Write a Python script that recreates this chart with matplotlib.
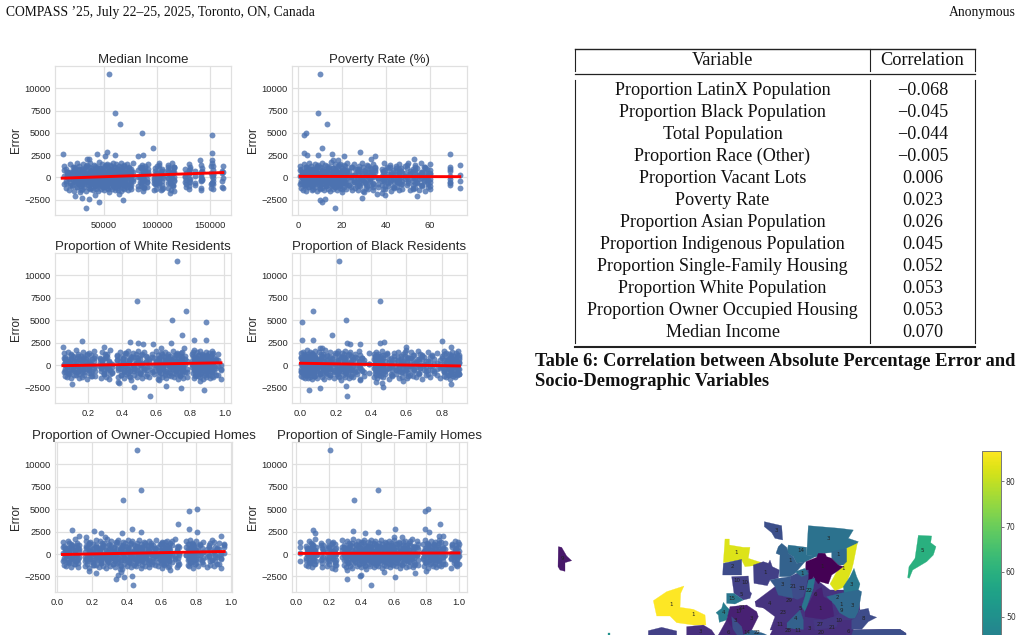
import numpy as np
import matplotlib
matplotlib.use('Agg')
import matplotlib.pyplot as plt
from matplotlib.patches import Polygon
from matplotlib.cm import ScalarMappable
from matplotlib.colors import Normalize

W, H = 1022, 635

# errors shared by all panels: the outliers first, then the main band
out_err = [11600,7200,6000,5000,4800,3300,2800,2750,2650,2600,2500,2450,2400,2350,2050,2000,1950,1900,
           -3500,-2750,-2600,-2400,-2300,-2100,-2000,-1900,-1800,-1700]
body_err = [820,-640,260,-230,640,-860,60,1120,-470,430,-1080,-120,
            980,-560,310,-330,720,-790,130,1280,-410,520,-1190,-40,
            760,-700,190,-280,590,-920,20,1060,-510,380,-1010,-170,
            1010,-600,340,-360,680,-830,100,1350,-440,490,-1330,-70,
            870,-680,220,-210,610,-880,40,1180,-530,410,-960,-140,
            940,-620,290,-300,750,-760,160,1240,-390,550,-1120,-20,
            790,-730,170,-260,560,-940,80,1090,-480,360,-1040,-190,
            1030,-580,320,-340,700,-810,110,1420,-420,470,-1260,-90,
            840,-660,240,-240,630,-900,30,1150,-500,440,-990,-150,
            960,-610,280,-310,730,-780,150,1300,-380,530,-1150,-50,
            800,-710,200,-270,570,-950,70,1110,-460,390,-1020,-180,
            1050,-590,330,-350,690,-820,120,1220,-430,480,-1230,-100,
            850,-670,230,-220,620,-870,50,1170,-520,420]
body_err2 = [150,-420,560,-90,-610,340,-250,710,-520,30,440,-160,-700,630,
             -330,220,-560,810,-30,-450,380,-200,90,-660,500,-120,670,-380,
             270,-530,740,-70,-300,480,-590,120,600,-210,-470,0,350,-680,
             -140,520,-400,190,-620,660,-10,-280,410,-540,780,80,-360,240,
             -490,310,-180,690,-570,50,460,-260,-640,580,110,-340,-40,370,
             200,-610,540,-110,-430,720,-230,10,-550,400,-300,640,-80,-510,
             330,-170,610,-650,70,-390,490,-20,-240,760,-460,170,-120,560,
             -590,290,-50,430,-350,650,130,-270,-520,390,-150,700,-440,60,
             -200,510,-630,230,-60,-370,590,-480,140,-310,450,-100,680,-560,
             -250,360,-20,-410,620,-130,250,-580,470,-330,90,-480,730,-190]
body_err3 = [-780,930,-20,470,-900,180,660,-410,1040,-620,290,820,-150,-1000,
             560,-730,890,-280,350,1150,-540,60,-850,720,-370,1000,-60,-680,
             420,-960,780,-200,1200,-470,140,-790,600,-320,950,-1100,240,-570,
             1080,-120,-880,510,-650,850,-30,-430,1260,-740,310,680,-1040,160,
             -290,970,-590,440,-820,740,-90,1110,-510,220,-930,620,-240,880,
             -700,380,1020,-160,-860,540,-450,800,20,-640,1180,-340,270,-1070,
             690,-520,910,-70,-770,480,-220,1060,-600,330,-910,760,-130,1130,
             -480,200,-840,640,-380,990,-10,-720,430,870,-560,110,-1150,580,
             -260,1230,-660,360,-810,700,-100,-500,1010,-310,170,-950,520,-420,
             840,-190,-750,280,1090,-610,400,-880,730,-40,-350,960,-690,120]
# fringe of the band, not every column reaches it
body_err4 = [1320,-1240,640,-1380,1510,-980,1180,-1500,870,-1120,1640,-760,1260,-1420,
             980,-1310,1450,-1060,720,-1580,1350,-890,1120,-1260,1580,-1180,810,-1450,
             1400,-1020,1230,-1360,940,-1540,1680,-840,1090,-1290,1480,-1140,760,-1400,
             1290,-950,1530,-1230,1030,-1620,1370,-1080,860,-1340,1600,-920,1170,-1470,
             1440,-1210,910,-1380,1270,-1010,1560,-1550,780,-1170,1340,-1300,1050,-870,
             1490,-1440,1210,-1090,960,-1270,1620,-1360,1130,-980,1390,-1520,840,-1200,
             1300,-1050,1510,-1410,1000,-1320,1240,-910,1660,-1480,890,-1150,1420,-1250,
             1080,-1380,1550,-1030,1200,-1590,930,-1120,1460,-1290,1150,-850,1330,-1430,
             1040,-1190,1590,-1340,820,-1070,1280,-1510,1110,-960,1470,-1260,980,-1390,
             1360,-1130,1530,-1000,900,-1460,1250,-1220,1640,-940,1060,-1320,1410,-1100]

inc_out = [55000,60500,65500,86000,152000,96500,53000,152000,11500,44000,61000,86500,51500,82000,36500,34000,152000,141000,
           33000,46000,68000,36500,30000,23000,42000,64000,112000,28000]
pov_out = [10,9,13,3.7,2.7,11,28,2.7,69,15.5,9,4,21,35,33,52.5,18,16,
           17,11,10,12.5,29,54,39.5,36,38,30]
wht_out = [.725,.49,.775,.695,.89,.75,.82,.89,.165,.445,.495,.69,.525,.585,.295,.055,.63,.765,
           .565,.88,.745,.47,.66,.11,.385,.375,.855,.62]
blk_out = [.22,.45,.07,.26,.008,.18,.07,.01,.80,.475,.45,.262,.28,.335,.60,.85,.125,.11,
           .265,.05,.11,.47,.26,.85,.46,.43,.58,.34]
own_out = [.46,.48,.38,.805,.76,.695,.43,.76,.085,.21,.48,.805,.37,.25,.125,.94,.275,.165,
           .435,.34,.385,.43,.35,.22,.365,.185,.65,.36]
sgl_out = [.205,.505,.355,.81,.79,.885,.605,.79,.10,.35,.505,.815,.42,.115,.90,.88,.60,.65,
           .46,.31,.605,.39,.395,.73,.54,.80,.31,.24]

inc_x = [12300,14600,15800,17700,18400,20100,21300,22400,23300,24600,25200,26700,27100,28300,29200,30000,30900,31800,32600,33500,
         34300,35200,36000,36700,37600,38300,39200,39900,40800,41400,42300,43000,43900,44500,45300,46000,46900,47400,48300,49000,
         49800,50400,51300,51900,52800,53400,54300,54900,55700,56300,57200,57800,58600,59200,60100,60700,61500,62100,63000,63600,
         64400,65000,65900,66500,67400,68000,68900,69500,70400,71000,72000,72600,73600,74300,75400,76100,77200,82100,84200,85100,
         85700,86600,87200,88100,89100,90600,91900,97100,98400,99600,100400,101600,102400,103600,104400,105600,110100,110900,112100,
         112900,114100,114900,116100,116400,126200,127800,130100,130600,131100,135800,141200,141800,142500,151100,151900,152400,153000,161200,162000]
pov_x = [1.1,1.3,1.9,2.1,2.8,3,3.6,3.8,4.4,4.6,5.2,5.4,6,6.2,6.8,7,7.6,7.8,8.4,8.6,9.2,9.4,10,10.2,10.8,11,11.6,11.8,12.4,12.7,13.3,
         13.6,14.2,14.5,15.1,15.3,15.9,16.1,16.7,16.9,17.5,17.7,18.3,18.5,19.1,19.3,19.9,20.1,20.7,20.9,21.5,21.7,22.4,23.1,24.3,24.7,
         25.5,25.9,26.7,27.1,27.9,28.3,29.1,29.5,30.3,30.7,31.5,31.9,32.7,33.1,33.9,34.3,35.1,36.4,38.1,38.5,39.3,39.7,40.5,40.9,41.7,
         42.3,43.1,43.7,44.5,44.9,45.7,46.1,46.9,47.3,48.6,49.4,50.1,50.9,52.1,52.4,53.1,53.4,54.1,54.9,55.7,56.4,57.1,57.9,58.6,59.1,
         60.1,60.2,69.1,69.2,73.8]
wht_x = [.06,.065,.07,.08,.085,.09,.10,.105,.115,.12,.13,.135,.145,.15,.16,.165,.175,.18,.19,.195,.205,.21,.22,.225,.235,.245,.27,.28,.285,
         .295,.30,.31,.315,.325,.33,.34,.37,.38,.39,.395,.405,.41,.42,.425,.435,.44,.45,.455,.465,.47,.48,.49,.495,.505,.51,.52,.53,.54,.55,
         .56,.575,.59,.60,.61,.615,.62,.63,.635,.64,.65,.655,.66,.67,.675,.68,.685,.70,.705,.71,.715,.72,.73,.735,.74,.745,.75,.755,.76,.77,
         .78,.81,.815,.82,.825,.83,.835,.84,.845,.85,.855,.86,.865,.87,.875,.88,.885,.89,.895,.90,.905,.91,.915,.92,.925,.93,.935,.94,.95,.96,.98]
blk_x = [.002,.005,.008,.012,.015,.018,.022,.025,.028,.032,.035,.038,.042,.045,.048,.052,.055,.058,.062,.065,.068,.072,.075,.078,.082,.085,.09,.095,
         .105,.11,.115,.12,.13,.135,.14,.145,.15,.16,.165,.17,.18,.19,.195,.205,.21,.215,.22,.23,.235,.24,.245,.25,.255,.26,.27,.275,.28,.285,.29,.30,.31,
         .32,.33,.34,.35,.36,.39,.415,.42,.425,.43,.435,.44,.445,.45,.455,.46,.465,.47,.48,.49,.50,.515,.52,.53,.54,.55,.56,.57,.575,.58,.59,.595,.605,.61,.62,
         .625,.635,.645,.655,.665,.67,.675,.69,.70,.71,.725,.735,.745,.755,.775,.79,.80,.81,.815,.825,.83,.835,.84,.845,.85,.855,.86,.865,.87,.875,.88,.885,.89,.895,.90]
own_x = [.035,.04,.045,.05,.06,.065,.07,.08,.085,.095,.10,.11,.115,.12,.125,.16,.165,.17,.18,.185,.19,.20,.205,.21,.22,.225,.23,.24,.245,.25,.26,.265,.27,
         .28,.285,.29,.30,.305,.31,.32,.325,.33,.34,.345,.35,.36,.365,.37,.38,.385,.39,.40,.405,.41,.42,.425,.43,.44,.445,.45,.46,.465,.47,.48,.485,.49,.50,.505,
         .51,.52,.525,.53,.54,.545,.55,.56,.57,.58,.59,.595,.60,.605,.61,.615,.62,.625,.63,.635,.64,.645,.65,.66,.68,.69,.695,.70,.74,.75,.755,.76,.765,.77,.775,
         .78,.785,.79,.80,.81,.82,.83,.84,.86,.87,.88,.89,.90,.91,.92,.93,.94,.96]
sgl_x = [.025,.06,.065,.07,.08,.085,.09,.095,.105,.11,.115,.12,.15,.155,.165,.19,.195,.20,.21,.22,.225,.235,.24,.245,.28,.29,.295,.305,.31,.32,.325,.33,.34,.345,
         .35,.36,.365,.37,.38,.385,.39,.395,.40,.41,.415,.42,.425,.43,.44,.445,.45,.455,.46,.47,.475,.48,.485,.49,.495,.50,.51,.515,.52,.525,.53,.54,.545,.55,.555,.56,
         .57,.575,.58,.585,.59,.595,.60,.61,.615,.62,.63,.635,.64,.65,.655,.66,.67,.675,.68,.69,.695,.70,.71,.72,.725,.73,.74,.75,.78,.785,.79,.80,.805,.81,.82,.825,.83,
         .84,.845,.85,.855,.86,.87,.875,.88,.89,.90,.905,.915,.95,.96,.97,.975,.98,.985,.99,.995,1.0]

# titles, fit line ends and axis limits for the six panels
titles = ['Median Income', 'Poverty Rate (%)', 'Proportion of White Residents', 'Proportion of Black Residents',
          'Proportion of Owner-Occupied Homes', 'Proportion of Single-Family Homes']
fit_x = [[11000,162000], [1,73.5], [.055,.98], [0,.9], [.03,.96], [.02,1.0]]
fit_y = [[-100,530], [100,70], [-70,250], [200,-100], [-50,280], [70,120]]
xlims = [(4230,169700), (-2.7,76.8), (.0086,1.039), (-.0476,.943), (-.013,1.005), (-.027,1.05)]
xticks = [[50000,100000,150000], [0,20,40,60], [.2,.4,.6,.8,1.0], [0,.2,.4,.6,.8], [0,.2,.4,.6,.8,1.0], [0,.2,.4,.6,.8,1.0]]
yticks = [-2500,0,2500,5000,7500,10000]
panels = [(inc_x,inc_out), (pov_x,pov_out), (wht_x,wht_out), (blk_x,blk_out), (own_x,own_out), (sgl_x,sgl_out)]
boxes = [(55,66,231,215), (292,66,467,215), (55,253,231,403), (292,253,467,403), (55,442,232,592), (292,442,467,592)]
label_x = [22,259,22,259,22,259]

# table
variables = ['Proportion LatinX Population','Proportion Black Population','Total Population','Proportion Race (Other)',
             'Proportion Vacant Lots','Poverty Rate','Proportion Asian Population','Proportion Indigenous Population',
             'Proportion Single-Family Housing','Proportion White Population','Proportion Owner Occupied Housing','Median Income']
corrs = ['\u22120.068','\u22120.045','\u22120.044','\u22120.005','0.006','0.023','0.026','0.045','0.052','0.053','0.053','0.070']

# map: outline vertices, colour value
regions = [
    ([(675,515),(735,470),(835,430),(900,480),(985,480),(990,540),(965,600),(720,600),(735,560)], 24),
    ([(235,608),(240,608),(240,615),(235,615)], 50),
    ([(85,350),(95,352),(110,378),(125,392),(105,398),(105,424),(90,420),(84,410)], 18),
    ([(370,512),(410,485),(462,468),(452,490),(450,532),(490,538),(525,555),(528,585),(490,585),(440,578),(420,558),(380,558)], 86.8),
    ([(585,327),(598,327),(598,345),(640,352),(660,352),(655,385),(695,398),(690,405),(645,410),(635,390),(580,398)], 83),
    ([(580,400),(635,388),(635,435),(578,435)], 30),
    ([(605,440),(655,438),(660,485),(665,490),(660,505),(640,510),(612,490)], 27),
    ([(590,490),(612,490),(640,510),(615,522),(590,520)], 42),
    ([(670,405),(700,395),(715,400),(720,390),(727,410),(748,420),(745,445),(720,450),(712,467),(672,460)], 27),
    ([(703,275),(755,287),(758,330),(735,325),(725,308),(703,290)], 31),
    ([(835,287),(930,295),(970,300),(955,325),(985,335),(975,350),(950,355),(930,365),(880,370),(860,380),(830,375)], 41),
    ([(775,345),(830,352),(830,375),(860,378),(827,395),(800,400),(790,380),(770,368)], 40),
    ([(755,340),(770,352),(775,370),(790,380),(800,400),(825,395),(795,430),(780,440),(748,440),(750,375),(738,370),(745,350)], 36),
    ([(950,355),(982,340),(970,400),(965,420),(945,470),(915,482),(900,462),(920,425),(940,410)], 83),
    ([(905,365),(950,355),(950,395),(940,405),(925,405),(905,385)], 38),
    ([(828,395),(860,382),(865,370),(885,370),(890,380),(905,385),(925,405),(940,410),(920,425),(905,435),(895,462),(870,455),(865,462),(850,440),(832,460),(826,430)], 13.2),
    ([(1165,316),(1205,318),(1202,338),(1218,350),(1210,375),(1190,395),(1165,410),(1148,420),(1138,445),(1133,443),(1137,410),(1155,385)], 60),
    ([(972,415),(980,440),(990,462),(985,480),(945,505),(940,470),(960,440)], 43),
    ([(890,500),(930,490),(985,480),(995,485),(985,545),(975,565),(945,565),(930,550),(915,525)], 38),
    ([(720,450),(745,445),(780,440),(790,470),(790,505),(745,495),(735,470)], 34),
    ([(780,440),(800,430),(815,420),(835,420),(835,445),(820,500),(800,510),(790,505)], 30),
    ([(795,425),(825,415),(835,432),(815,440)], 40),
    ([(835,450),(855,445),(850,475),(825,545),(815,530),(825,500)], 42),
    ([(850,495),(860,480),(875,472),(880,500),(905,515),(912,560),(880,568),(825,560),(825,545)], 20),
    ([(675,515),(735,500),(790,505),(815,515),(812,540),(790,560),(775,575),(745,565),(735,540),(678,530)], 24),
    ([(790,560),(810,540),(820,570),(820,600),(770,595),(770,580)], 36),
    ([(580,517),(590,530),(600,540),(590,570),(568,577),(565,555),(558,548),(575,535)], 44),
    ([(600,530),(650,525),(680,545),(685,560),(665,600),(660,615),(600,615),(590,570)], 20),
    ([(605,560),(635,590),(640,615),(610,615)], 31),
    ([(355,602),(395,592),(440,603),(440,615),(355,615)], 27),
    ([(470,590),(520,585),(545,600),(555,615),(470,615)], 23),
    ([(565,615),(590,570),(620,615)], 22),
    ([(640,615),(665,600),(700,610),(710,615)], 37),
    ([(740,575),(770,580),(770,595),(820,600),(835,590),(855,600),(920,590),(925,570),(965,570),(970,600),(1060,598),(1110,598),(1128,610),(1128,615),(720,615)], 23),
    ([(970,600),(1060,598),(1110,598),(1128,610),(1128,615),(965,615)], 31),
    ([(990,540),(1015,535),(1020,555),(1040,562),(1015,575),(995,598),(965,598),(965,570),(975,565)], 30),
    ([(850,570),(880,570),(912,560),(930,550),(965,570),(925,570),(920,590),(855,600)], 25),
]
map_labels = [('9',98,384),('1',423,522),('1',490,555),('1',618,368),('2',607,411),('10',620,452),('10',645,456),('5',634,492),
              ('15',605,505),('1',705,427),('3',738,300),('3',895,324),('14',812,360),('1',780,393),('1',925,375),('1',876,411),
              ('1',940,417),('5',1178,360),('3',965,465),('2',923,502),('1',934,525),('9',934,540),('3',968,527),('3',756,462),
              ('21',790,468),('31',815,476),('1',815,430),('22',838,483),('6',857,494),('1',871,537),('4',718,521),('29',777,511),
              ('23',760,548),('5',810,536),('4',797,566),('4',580,546),('21',637,533),('17',626,545),('3',617,573),('3',665,565),
              ('3',510,604),('6',594,606),('14',651,606),('22',682,606),('11',750,582),('28',775,603),('11',803,602),('27',871,582),
              ('21',906,592),('10',928,570),('6',956,604),('20',873,606),('3',837,597),('8',1000,566)]
cbar_ticks = [50,60,70,80]


def px_axes(x0, y0, x1, y1, **kw):
    return fig.add_axes([x0/W, 1-y1/H, (x1-x0)/W, (y1-y0)/H], **kw)


plt.rcParams['font.family'] = ['Liberation Sans', 'DejaVu Sans']
fig = plt.figure(figsize=(W/100, H/100), dpi=100, facecolor='white')

for i in range(6):
    xs, xo = panels[i]
    box = boxes[i]
    ax = px_axes(*box)
    px = list(xo)
    py = list(out_err)
    for errs in [body_err, body_err2, body_err3, body_err4]:
        for a, b in zip(xs, errs):
            px.append(a)
            py.append(b)
    ax.scatter(px, py, s=18, color='#4c72b0', alpha=0.8, linewidths=0, zorder=3)
    ax.plot(fit_x[i], fit_y[i], color='red', lw=2.1, zorder=4)
    ax.set_xlim(xlims[i])
    ax.set_ylim(-4236, 12500)
    ax.set_xticks(xticks[i])
    ax.set_yticks(yticks)
    ax.grid(True, color='#e0e0e0', lw=0.9)
    ax.set_axisbelow(True)
    for s in ax.spines.values():
        s.set_color('#e0e0e0')
        s.set_linewidth(0.9)
    ax.tick_params(length=0, labelsize=6.7, labelcolor='#262626', pad=3)
    ax.tick_params(axis='x', pad=4)
    ax.set_title(titles[i], fontsize=9.5, color='#262626', pad=2.5)
    ax.set_ylabel('Error', fontsize=8.4, color='#262626')
    ax.yaxis.set_label_coords((label_x[i]-box[0])/(box[2]-box[0]), 0.5)

# page text and table, axes in page pixels
pg = fig.add_axes([0, 0, 1, 1], zorder=5)
pg.set_xlim(0, W)
pg.set_ylim(H, 0)
pg.axis('off')
serif = ['Liberation Serif', 'DejaVu Serif']
pg.text(6, 12.5, 'COMPASS \u201925, July 22\u201325, 2025, Toronto, ON, Canada', family=serif, fontsize=9.8, va='center', color='#111111')
pg.text(1016, 12.5, 'Anonymous', family=serif, fontsize=9.8, va='center', ha='right', color='#111111')

pg.plot([575,975], [48.7,48.7], color='#222222', lw=1)
pg.plot([575,975], [74.3,74.3], color='#222222', lw=0.9)
pg.plot([575,975], [346.7,346.7], color='#222222', lw=1.5)
for vx in [575, 870.3, 975]:
    pg.plot([vx,vx], [48.7,70.7], color='#222222', lw=0.8)
    pg.plot([vx,vx], [80,343], color='#222222', lw=0.8)
pg.text(722.5, 60.5, 'Variable', family=serif, fontsize=13.2, ha='center', va='center', color='#111111')
pg.text(922.5, 60.5, 'Correlation', family=serif, fontsize=13.2, ha='center', va='center', color='#111111')
row_y = 90.5
for v, c in zip(variables, corrs):
    pg.text(722.5, row_y, v, family=serif, fontsize=13.1, ha='center', va='center', color='#111111')
    pg.text(922.5, row_y, c, family=serif, fontsize=13.1, ha='center', va='center', color='#111111')
    row_y += 22
pg.text(535, 361, 'Table 6: Correlation between Absolute Percentage Error and', family=serif, fontsize=13.3, weight='bold', va='center', color='#111111')
pg.text(535, 382, 'Socio-Demographic Variables', family=serif, fontsize=13.3, weight='bold', va='center', color='#111111')

# map, in units of three per page pixel
mp = px_axes(530, 430, 1022, 635, zorder=2)
mp.set_xlim(0, 1476)
mp.set_ylim(615, 0)
mp.axis('off')
norm = Normalize(13.2, 86.8)
cmap = plt.get_cmap('viridis')
for pts, val in regions:
    mp.add_patch(Polygon(pts, closed=True, facecolor=cmap(norm(val)), edgecolor=cmap(norm(val)), lw=0.2))
for t, x, y in map_labels:
    mp.text(x, y, t, fontsize=4, family='DejaVu Sans', ha='center', va='center', color='#222222', clip_on=True)

cax = px_axes(982, 450.7, 1001, 783)
cb = fig.colorbar(ScalarMappable(norm=norm, cmap=cmap), cax=cax, ticks=cbar_ticks)
cb.ax.tick_params(labelsize=5.6, length=2, width=0.5, pad=1.5, color='#444444', labelcolor='#333333')
for lab in cb.ax.get_yticklabels():
    lab.set_family('DejaVu Sans')
cb.outline.set_edgecolor('#777777')
cb.outline.set_linewidth(0.7)

fig.savefig('out.png', dpi=100)
